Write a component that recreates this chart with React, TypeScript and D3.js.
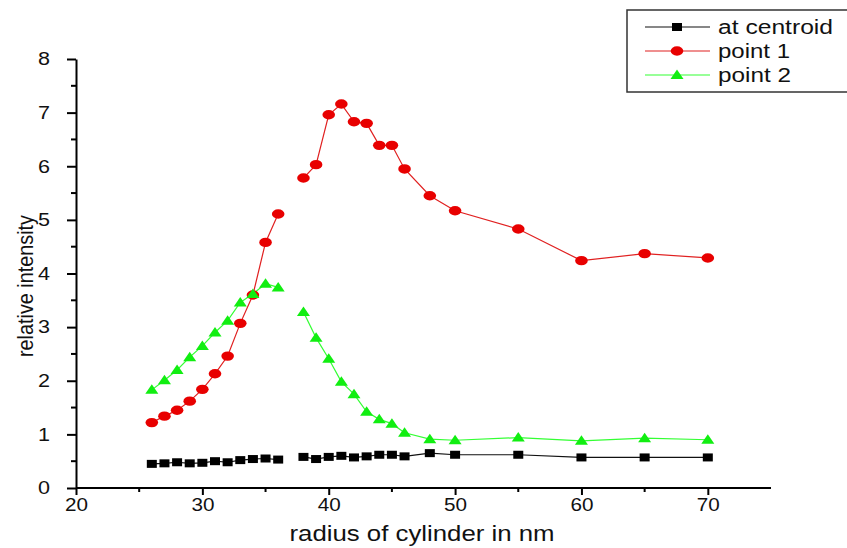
// App.tsx

import React, { useEffect, useRef } from 'react';
import * as d3 from 'd3';

const radius = [
  26, 27, 28, 29, 30, 31, 32, 33, 34, 35, 36, 37, 38, 39, 40, 41, 42, 43, 44,
  45, 46, 48, 50, 55, 60, 65, 70,
];

// 37 nm was not measured, so every series has a gap there
const atCentroid = [
  0.45, 0.46, 0.48, 0.46, 0.47, 0.5, 0.48, 0.52, 0.54, 0.55, 0.53, null, 0.58,
  0.54, 0.58, 0.6, 0.57, 0.59, 0.62, 0.62, 0.59, 0.65, 0.62, 0.62, 0.57, 0.57,
  0.57,
];

const point1 = [
  1.22, 1.34, 1.45, 1.62, 1.84, 2.13, 2.46, 3.07, 3.6, 4.58, 5.11, null, 5.78,
  6.03, 6.96, 7.16, 6.83, 6.8, 6.39, 6.39, 5.95, 5.45, 5.17, 4.83, 4.24, 4.37,
  4.29,
];

const point2 = [
  1.83, 2.01, 2.2, 2.44, 2.65, 2.9, 3.12, 3.46, 3.62, 3.81, 3.74, null, 3.28,
  2.8, 2.41, 1.98, 1.75, 1.42, 1.28, 1.2, 1.03, 0.91, 0.89, 0.94, 0.88, 0.93,
  0.9,
];

const xTicks = [20, 30, 40, 50, 60, 70];
const yTicks = [0, 1, 2, 3, 4, 5, 6, 7, 8];

const seriesNames = ['at centroid', 'point 1', 'point 2'];

type Pt = { x: number; y: number | null };

const App = () => {
  const svgRef = useRef<SVGSVGElement>(null);

  useEffect(() => {
    const svg = d3.select(svgRef.current);
    svg.selectAll('*').remove();

    const x = d3.scaleLinear().domain([20, 75]).range([76, 771]);
    const y = d3.scaleLinear().domain([0, 8]).range([488, 59]);

    const font = '"Liberation Sans", Arial, sans-serif';

    const series = [
      { name: seriesNames[0], values: atCentroid, color: '#000000', line: '#111111', shape: 'square', textLen: 115 },
      { name: seriesNames[1], values: point1, color: '#e80000', line: '#e02020', shape: 'circle', textLen: 72 },
      { name: seriesNames[2], values: point2, color: '#11ee11', line: '#33ff33', shape: 'triangle', textLen: 73 },
    ];

    const drawMarker = (g, shape, color) => {
      if (shape === 'square') {
        g.append('rect')
          .attr('x', -5)
          .attr('y', -4)
          .attr('width', 10)
          .attr('height', 8)
          .attr('fill', color);
      } else if (shape === 'circle') {
        g.append('ellipse')
          .attr('rx', 6.3)
          .attr('ry', 4.7)
          .attr('fill', color);
      } else {
        g.append('path')
          .attr('d', 'M0,-5.5L6.5,4L-6.5,4Z')
          .attr('fill', color);
      }
    };

    // Axes
    const xAxis = d3
      .axisBottom(x)
      .tickValues(xTicks)
      .tickSize(7)
      .tickSizeOuter(0)
      .tickPadding(3);
    const gx = svg
      .append('g')
      .attr('transform', `translate(0,${y(0)})`)
      .attr('color', '#000')
      .call(xAxis);
    gx.select('.domain')
      .attr('stroke', '#000')
      .attr('stroke-width', 2)
      .attr('d', `M${x(20)},0H${x(75)}`);
    gx.selectAll('.tick line').attr('stroke', '#000').attr('stroke-width', 2);
    gx.selectAll('.tick text')
      .attr('font-family', font)
      .attr('font-size', 18)
      .attr('fill', '#111')
      .attr('textLength', 23)
      .attr('lengthAdjust', 'spacingAndGlyphs');

    // minor x ticks
    svg
      .append('g')
      .selectAll('line')
      .data(d3.range(25, 75, 10))
      .enter()
      .append('line')
      .attr('x1', (d) => x(d))
      .attr('x2', (d) => x(d))
      .attr('y1', y(0))
      .attr('y2', y(0) + 4)
      .attr('stroke', '#000')
      .attr('stroke-width', 2);

    const yAxis = d3
      .axisLeft(y)
      .tickValues(yTicks)
      .tickSize(9)
      .tickSizeOuter(0)
      .tickPadding(17);
    const gy = svg
      .append('g')
      .attr('transform', `translate(${x(20)},0)`)
      .attr('color', '#000')
      .call(yAxis);
    gy.select('.domain').attr('stroke', '#000').attr('stroke-width', 2);
    gy.selectAll('.tick line').attr('stroke', '#000').attr('stroke-width', 2);
    gy.selectAll('.tick text')
      .attr('font-family', font)
      .attr('font-size', 18)
      .attr('fill', '#111')
      .attr('textLength', 12)
      .attr('lengthAdjust', 'spacingAndGlyphs');

    // minor y ticks
    svg
      .append('g')
      .selectAll('line')
      .data(d3.range(0.5, 8, 1))
      .enter()
      .append('line')
      .attr('x1', x(20) - 5)
      .attr('x2', x(20))
      .attr('y1', (d) => y(d))
      .attr('y2', (d) => y(d))
      .attr('stroke', '#000')
      .attr('stroke-width', 2);

    // Axis titles
    svg
      .append('text')
      .attr('x', 422)
      .attr('y', 541)
      .attr('text-anchor', 'middle')
      .attr('font-family', font)
      .attr('font-size', 22)
      .attr('fill', '#111')
      .attr('textLength', 265)
      .attr('lengthAdjust', 'spacingAndGlyphs')
      .text('radius of cylinder in nm');

    svg
      .append('text')
      .attr('transform', 'translate(33,286) rotate(-90)')
      .attr('text-anchor', 'middle')
      .attr('font-family', font)
      .attr('font-size', 21.5)
      .attr('fill', '#111')
      .attr('textLength', 142)
      .attr('lengthAdjust', 'spacingAndGlyphs')
      .text('relative intensity');

    // Lines
    const line = d3
      .line<Pt>()
      .defined((d) => d.y !== null)
      .x((d) => x(d.x))
      .y((d) => y(d.y as number));

    series.forEach((s) => {
      const pts: Pt[] = radius.map((r, i) => ({ x: r, y: s.values[i] }));
      svg
        .append('path')
        .datum(pts)
        .attr('fill', 'none')
        .attr('stroke', s.line)
        .attr('stroke-width', 1.2)
        .attr('d', line);
    });

    // Markers
    series.forEach((s) => {
      const g = svg.append('g');
      radius.forEach((r, i) => {
        const v = s.values[i];
        if (v === null) return;
        const m = g.append('g').attr('transform', `translate(${x(r)},${y(v)})`);
        drawMarker(m, s.shape, s.color);
      });
    });

    // Legend
    const legend = svg.append('g');
    legend
      .append('rect')
      .attr('x', 627)
      .attr('y', 10)
      .attr('width', 240)
      .attr('height', 82)
      .attr('fill', 'white')
      .attr('stroke', '#333')
      .attr('stroke-width', 1.5);

    series.forEach((s, i) => {
      const cy = 27 + i * 24;
      legend
        .append('line')
        .attr('x1', 645)
        .attr('x2', 710)
        .attr('y1', cy)
        .attr('y2', cy)
        .attr('stroke', s.line)
        .attr('stroke-width', 1.2);
      const m = legend.append('g').attr('transform', `translate(677,${cy})`);
      drawMarker(m, s.shape, s.color);
      legend
        .append('text')
        .attr('x', 718)
        .attr('y', cy + 7)
        .attr('font-family', font)
        .attr('font-size', 19.5)
        .attr('fill', '#111')
        .attr('textLength', s.textLen)
        .attr('lengthAdjust', 'spacingAndGlyphs')
        .text(s.name);
    });
  }, []);

  return (
    <svg
      ref={svgRef}
      width={847}
      height={548}
      style={{ position: 'absolute', left: 0, top: 0, background: 'white' }}
    ></svg>
  );
};

export default App;
